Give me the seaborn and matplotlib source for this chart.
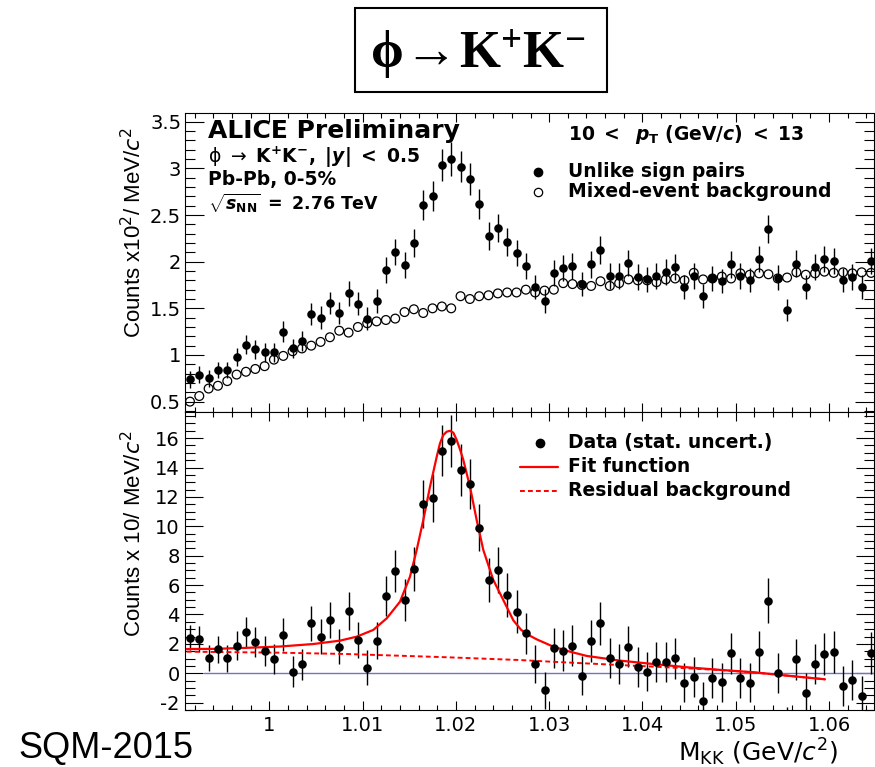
import numpy as np
import pandas as pd
import matplotlib
matplotlib.use("Agg")
import matplotlib.pyplot as plt
import seaborn as sns
from matplotlib.ticker import MultipleLocator, FixedLocator, FixedFormatter
from matplotlib.lines import Line2D
from matplotlib.patches import Rectangle
from matplotlib import font_manager as fm

# ---------------- data ----------------
bin_first = 0.9915
bin_width = 0.001
n_bins = 74
mass = np.round(bin_first + bin_width * np.arange(n_bins), 4)

unlike = [0.74, 0.79, 0.75, 0.84, 0.84, 0.98, 1.11, 1.06, 1.03, 1.03,
          1.25, 1.07, 1.15, 1.44, 1.40, 1.56, 1.45, 1.66, 1.55, 1.39,
          1.58, 1.91, 2.10, 1.96, 2.20, 2.61, 2.70, 3.04, 3.10, 3.02,
          2.89, 2.62, 2.28, 2.36, 2.21, 2.09, 1.95,
          1.73, 1.58, 1.88, 1.93, 1.95, 1.76, 1.97, 2.13, 1.85, 1.85,
          1.99, 1.84, 1.81, 1.85, 1.89, 1.94, 1.73, 1.85, 1.63, 1.82,
          1.79, 1.97, 1.85, 1.80, 2.03, 2.35, 1.83, 1.48, 1.98, 1.73,
          1.94, 2.03, 2.01, 1.80, 1.84, 1.73, 2.01]
unlike_err = [0.09, 0.09, 0.09, 0.09, 0.09, 0.10, 0.10, 0.10, 0.10, 0.10,
              0.11, 0.10, 0.11, 0.12, 0.12, 0.12, 0.12, 0.13, 0.12, 0.12,
              0.13, 0.14, 0.14, 0.14, 0.15, 0.16, 0.16, 0.17, 0.18, 0.17,
              0.17, 0.16, 0.15, 0.15, 0.15, 0.14, 0.14,
              0.13, 0.13, 0.14, 0.14, 0.14, 0.13, 0.14, 0.15, 0.14, 0.14,
              0.14, 0.14, 0.13, 0.14, 0.14, 0.14, 0.13, 0.14, 0.13, 0.13,
              0.13, 0.14, 0.14, 0.13, 0.14, 0.15, 0.13, 0.12, 0.14, 0.13,
              0.14, 0.14, 0.14, 0.13, 0.14, 0.13, 0.14]
mixed = [0.50, 0.56, 0.64, 0.67, 0.72, 0.79, 0.82, 0.85, 0.88, 0.95,
         0.99, 1.04, 1.07, 1.10, 1.14, 1.19, 1.26, 1.24, 1.30, 1.34,
         1.36, 1.375, 1.39, 1.46, 1.49, 1.45, 1.50, 1.52, 1.50, 1.63,
         1.60, 1.63, 1.64, 1.66, 1.67, 1.67, 1.70,
         1.67, 1.69, 1.70, 1.77, 1.76, 1.75, 1.74, 1.79, 1.74, 1.77,
         1.81, 1.80, 1.80, 1.78, 1.81, 1.82, 1.80, 1.88, 1.81, 1.82,
         1.84, 1.82, 1.875, 1.86, 1.875, 1.865, 1.82, 1.83, 1.886, 1.86,
         1.875, 1.893, 1.88, 1.886, 1.875, 1.886, 1.88]

signal = [2.42, 2.31, 1.02, 1.63, 1.02, 1.88, 2.79, 2.11, 1.54, 0.95,
          2.61, 0.11, 0.61, 3.40, 2.49, 3.63, 1.81, 4.26, 2.27, 0.38,
          2.20, 5.26, 6.96, 4.99, 7.10, 11.50, 11.90, 15.14, 15.82, 13.83,
          12.88, 9.91, 6.35, 7.03, 5.33, 4.19, 2.72,
          0.63, -1.14, 1.74, 1.54, 1.88, -0.16, 2.20, 3.40, 1.06, 0.63,
          1.81, 0.41, 0.11, 0.75, 0.79, 1.02, -0.64, -0.23, -1.88, -0.30,
          -0.61, 1.36, -0.30, -0.64, 1.47, 4.92, 0.00, -3.50, 0.95, -1.32,
          0.63, 1.29, 1.43, -0.86, -0.46, -1.52, 1.36]
signal_err = [0.87, 0.89, 0.88, 0.92, 0.92, 0.99, 1.05, 1.03, 1.02, 1.02,
              1.12, 1.04, 1.07, 1.20, 1.18, 1.25, 1.20, 1.29, 1.25, 1.18,
              1.26, 1.38, 1.45, 1.40, 1.48, 1.62, 1.64, 1.74, 1.76, 1.74,
              1.70, 1.62, 1.51, 1.54, 1.49, 1.45, 1.40,
              1.32, 1.26, 1.37, 1.39, 1.40, 1.33, 1.40, 1.46, 1.36, 1.36,
              1.41, 1.36, 1.35, 1.36, 1.37, 1.39, 1.32, 1.36, 1.28, 1.35,
              1.34, 1.40, 1.36, 1.34, 1.42, 1.53, 1.35, 1.22, 1.41, 1.32,
              1.39, 1.42, 1.42, 1.34, 1.36, 1.32, 1.42]

fit_mass = [0.99115, 0.99400, 0.99758, 1.00115, 1.00472, 1.00758, 1.00937,
            1.01115, 1.01259, 1.01401, 1.01508, 1.01580, 1.01651, 1.01723,
            1.01795, 1.01830, 1.01865, 1.01902, 1.01937, 1.01973, 1.02009,
            1.02044, 1.02080, 1.02151, 1.02223, 1.02294, 1.02401, 1.02508,
            1.02616, 1.02700, 1.02795, 1.02866, 1.03044, 1.03223, 1.03402,
            1.03759, 1.04116, 1.04474, 1.04831, 1.05188, 1.05546, 1.05956]
fit_vals = [1.65, 1.66, 1.73, 1.82, 1.99, 2.22, 2.49,
            2.95, 3.74, 4.87, 6.57, 8.39, 10.43, 12.70,
            14.74, 15.65, 16.21, 16.44, 16.50, 16.37, 15.87,
            15.24, 14.51, 12.70, 10.43, 8.39, 6.35, 4.99,
            3.60, 2.95, 2.55, 2.31, 1.81, 1.47, 1.18,
            0.86, 0.63, 0.41, 0.23, 0.07, -0.16, -0.41]

resid_mass = [0.99115, 1.00115, 1.0083, 1.0190, 1.02684, 1.03044, 1.03759,
              1.04474, 1.04831, 1.05188, 1.05546, 1.05956]
resid_vals = [1.47, 1.40, 1.31, 1.09, 0.90, 0.78, 0.56,
              0.34, 0.22, 0.06, -0.16, -0.41]

zero_mass = [0.993, 1.0648]
zero_vals = [0.0, 0.0]

x_ticks = [1.00, 1.01, 1.02, 1.03, 1.04, 1.05, 1.06]
x_tick_labels = ['1', '1.01', '1.02', '1.03', '1.04', '1.05', '1.06']
top_yticks = [0.5, 1.0, 1.5, 2.0, 2.5, 3.0, 3.5]
top_ytick_labels = ['0.5', '1', '1.5', '2', '2.5', '3', '3.5']
bot_yticks = [-2, 0, 2, 4, 6, 8, 10, 12, 14, 16]
bot_ytick_labels = ['-2', '0', '2', '4', '6', '8', '10', '12', '14', '16']

# ---------------- style ----------------
sns.set_theme(style="ticks")
names = {f.name for f in fm.fontManager.ttflist}
ylab_font = 'Liberation Sans Narrow' if 'Liberation Sans Narrow' in names else 'Liberation Sans'
plt.rcParams.update({
    'font.family': ['DejaVu Sans'],
    'mathtext.fontset': 'custom',
    'mathtext.rm': 'DejaVu Sans',
    'mathtext.it': 'DejaVu Sans:italic',
    'mathtext.bf': 'DejaVu Sans:bold',
    'mathtext.sf': 'Liberation Serif:bold',
    'axes.linewidth': 0.8,
    'axes.edgecolor': 'black',
    'axes.facecolor': 'white',
    'figure.facecolor': 'white',
    'text.color': 'black',
    'axes.labelcolor': 'black',
    'xtick.color': 'black',
    'ytick.color': 'black',
    'xtick.labelcolor': 'black',
    'ytick.labelcolor': 'black',
})
has_bfit = 'mathtext.bfit' in plt.rcParams
if has_bfit:
    plt.rcParams['mathtext.bfit'] = 'DejaVu Sans:italic:bold'
BI = r'\mathbfit' if has_bfit else r'\mathit'

W, H = 875, 767
fig = plt.figure(figsize=(W / 100, H / 100), dpi=100)


def fx(x):
    return x / W


def fy(y):
    return 1 - y / H


L, R = 185.3, 873.5
T1, B1, B2 = 112.7, 411.7, 710.0
XMIN = 0.991
XMAX = XMIN + (R - L) / 9330.0
ax1 = fig.add_axes([fx(L), fy(B1), (R - L) / W, (B1 - T1) / H])
ax2 = fig.add_axes([fx(L), fy(B2), (R - L) / W, (B2 - B1) / H])

df_top = pd.DataFrame({'m': mass, 'unlike': unlike, 'err': unlike_err, 'mixed': mixed})
df_bot = pd.DataFrame({'m': mass, 'signal': signal, 'err': signal_err})

# ---- top panel ----
ax1.errorbar(df_top['m'], df_top['unlike'], yerr=df_top['err'], fmt='none',
             ecolor='black', elinewidth=1.0, capsize=0, zorder=2)
sns.scatterplot(data=df_top, x='m', y='mixed', ax=ax1, color='none',
                edgecolor='black', linewidth=0.9, s=40, zorder=3)
sns.scatterplot(data=df_top, x='m', y='unlike', ax=ax1, color='black',
                edgecolor='black', linewidth=0, s=38, zorder=4)

# ---- bottom panel ----
ax2.plot(zero_mass, zero_vals, color='#7272c8', lw=1.0, zorder=1)
ax2.errorbar(df_bot['m'], df_bot['signal'], yerr=df_bot['err'], fmt='none',
             ecolor='black', elinewidth=1.0, capsize=0, zorder=2)
sns.scatterplot(data=df_bot, x='m', y='signal', ax=ax2, color='black',
                edgecolor='black', linewidth=0, s=38, zorder=4)
sns.lineplot(x=resid_mass, y=resid_vals, ax=ax2, color='red', lw=1.4,
             linestyle=(0, (2.5, 1.6)), sort=False, estimator=None, zorder=3)
sns.lineplot(x=fit_mass, y=fit_vals, ax=ax2, color='red', lw=1.6,
             sort=False, estimator=None, zorder=3)

for ax in (ax1, ax2):
    ax.set_xlim(XMIN, XMAX)
    ax.xaxis.set_major_locator(FixedLocator(x_ticks))
    ax.xaxis.set_minor_locator(MultipleLocator(0.002))
    ax.tick_params(which='both', direction='in', top=True, right=True,
                   bottom=True, left=True, color='black', width=0.8)
    ax.tick_params(axis='x', which='major', length=6.5)
    ax.tick_params(axis='x', which='minor', length=3.3)
    ax.set_xlabel('')
    ax.set_ylabel('')
    for s in ax.spines.values():
        s.set_visible(True)
        s.set_color('black')
        s.set_linewidth(0.8)

ax1.set_ylim(0.392, 3.597)
ax1.yaxis.set_major_locator(FixedLocator(top_yticks))
ax1.yaxis.set_major_formatter(FixedFormatter(top_ytick_labels))
ax1.yaxis.set_minor_locator(MultipleLocator(0.1))
ax1.tick_params(axis='y', which='major', length=14)
ax1.tick_params(axis='y', which='minor', length=7.5)
ax1.tick_params(axis='x', labelbottom=False)
ax1.tick_params(axis='y', labelsize=14, pad=3, labelcolor='black')

ax2.set_ylim(-2.5, 17.8)
ax2.yaxis.set_major_locator(FixedLocator(bot_yticks))
ax2.yaxis.set_major_formatter(FixedFormatter(bot_ytick_labels))
ax2.yaxis.set_minor_locator(MultipleLocator(0.5))
ax2.tick_params(axis='y', which='major', length=13)
ax2.tick_params(axis='y', which='minor', length=7)
ax2.xaxis.set_major_formatter(FixedFormatter(x_tick_labels))
ax2.tick_params(axis='both', labelsize=14, pad=4, labelcolor='black')

for ax in (ax1, ax2):
    for lab in ax.get_xticklabels() + ax.get_yticklabels():
        lab.set_fontfamily('DejaVu Sans')
        lab.set_color('black')

# axis titles
ax1.set_ylabel(r'Counts x10$^{2}$/ MeV/$c^{2}$', fontsize=16, family=ylab_font, color='black')
ax1.yaxis.set_label_coords((146 - L) / (R - L), (B1 - 232) / (B1 - T1))
ax2.set_ylabel(r'Counts x 10/ MeV/$c^{2}$', fontsize=16, family=ylab_font, color='black')
ax2.yaxis.set_label_coords((146 - L) / (R - L), (B2 - 534) / (B2 - B1))
ax2.set_xlabel(r'$\mathrm{M_{KK}\ (GeV/}\mathit{c}^{\mathrm{2}}\mathrm{)}$', fontsize=18, color='black')
ax2.xaxis.label.set_ha('right')
ax2.xaxis.label.set_va('baseline')
ax2.xaxis.set_label_coords((838 - L) / (R - L), -(761 - B2) / (B2 - B1))

# ---- annotations ----
fs = 13.5
fig.text(fx(208), fy(138), 'ALICE Preliminary', fontsize=18, fontweight='bold', va='baseline')
fig.text(fx(208), fy(163),
         r'$\mathrm{\phi\ \rightarrow\ }\mathbf{K^{+}K^{-},\ |}' + BI + r'{y}\mathbf{|\ <\ 0.5}$',
         fontsize=fs, va='baseline')
fig.text(fx(208), fy(185), 'Pb-Pb, 0-5%', fontsize=fs, fontweight='bold', va='baseline')
fig.text(fx(208), fy(210),
         r'$\sqrt{' + BI + r'{s}_{\mathbf{NN}}}\mathbf{\ =\ 2.76\ TeV}$',
         fontsize=12.5, va='baseline')
fig.text(fx(568), fy(140),
         r'$\mathbf{10\ <\ \ }' + BI + r'{p}_{\mathbf{T}}\mathbf{\ (GeV/}' + BI + r'{c}\mathbf{)\ <\ 13}$',
         fontsize=fs, va='baseline')

# top legend
fig.add_artist(Line2D([fx(538)], [fy(172)], marker='o', ms=6, color='black', mec='black',
                      ls='none', transform=fig.transFigure))
fig.add_artist(Line2D([fx(538)], [fy(192)], marker='o', ms=6, mfc='none', mec='black',
                      mew=0.9, ls='none', transform=fig.transFigure))
fig.text(fx(568), fy(177), 'Unlike sign pairs', fontsize=fs, fontweight='bold', va='baseline')
fig.text(fx(568), fy(197), 'Mixed-event background', fontsize=fs, fontweight='bold', va='baseline')

# bottom legend
fig.add_artist(Line2D([fx(540)], [fy(443)], marker='o', ms=6, color='black',
                      ls='none', transform=fig.transFigure))
fig.add_artist(Line2D([fx(520), fx(558)], [fy(467), fy(467)], color='red', lw=1.6,
                      transform=fig.transFigure))
fig.add_artist(Line2D([fx(520), fx(558)], [fy(491), fy(491)], color='red', lw=1.4,
                      ls=(0, (2.5, 1.6)), transform=fig.transFigure))
fig.text(fx(568), fy(448), 'Data (stat. uncert.)', fontsize=fs, fontweight='bold', va='baseline')
fig.text(fx(568), fy(472), 'Fit function', fontsize=fs, fontweight='bold', va='baseline')
fig.text(fx(568), fy(496), 'Residual background', fontsize=fs, fontweight='bold', va='baseline')

# title box
fig.add_artist(Rectangle((fx(355), fy(92)), (607 - 355) / W, (92 - 8) / H,
                         transform=fig.transFigure, fill=False, ec='black', lw=1.5))
fig.text(fx(478), fy(68), r'$\mathsf{\phi\!\rightarrow\!K^{+}K^{-}}$', fontsize=38,
         ha='center', va='baseline')

# conference tag
fig.text(fx(18), fy(758), 'SQM-2015', fontsize=26, family='Liberation Sans', va='baseline')

fig.savefig('out.png', dpi=100)
